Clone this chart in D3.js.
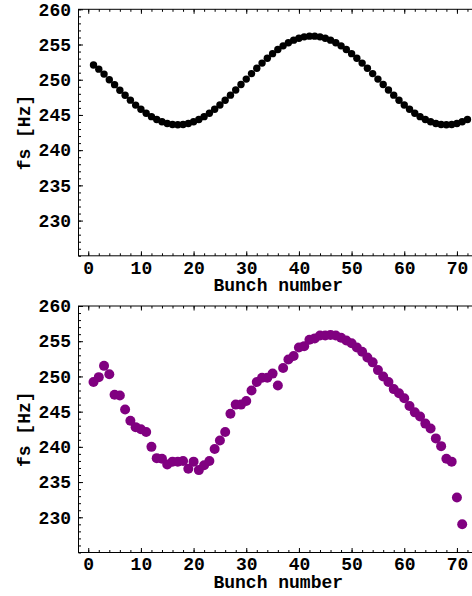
<!DOCTYPE html>
<html>
<head>
<meta charset="utf-8">
<script src="https://cdn.jsdelivr.net/npm/d3@7"></script>
<style>
    body { margin: 0; background: #fff; }
    svg { display: block; }
    text { font-family: "Liberation Mono", "Courier New", monospace; font-weight: bold; fill: #000; }
    .domain { display: none; }
    .tick line { stroke: #000; stroke-width: 1; }
</style>
</head>
<body>
<div id="chart"></div>
<script>
// bunch numbers and synchrotron frequency
const bunchTop = d3.range(1, 73);
const fsTop = [
    252.1, 251.5, 250.8, 250.0, 249.3, 248.5, 247.8, 247.1, 246.4, 245.8,
    245.24, 244.76, 244.35, 244.03, 243.79, 243.65, 243.60, 243.65, 243.79, 244.03,
    244.35, 244.76, 245.24, 245.80, 246.42, 247.09, 247.81, 248.55, 249.32, 250.09,
    250.87, 251.62, 252.36, 253.05, 253.70, 254.29, 254.81, 255.26, 255.62, 255.90,
    256.09, 256.19, 256.19, 256.09, 255.90, 255.62, 255.26, 254.81, 254.29, 253.70,
    253.05, 252.36, 251.62, 250.87, 250.09, 249.32, 248.55, 247.81, 247.09, 246.42,
    245.80, 245.24, 244.76, 244.35, 244.03, 243.79, 243.65, 243.60, 243.65, 243.79,
    244.03, 244.35
];
const bunchBottom = d3.range(1, 72);
const fsBottom = [
    249.2, 249.9, 251.5, 250.3, 247.4, 247.3, 245.3, 243.7, 242.8, 242.5,
    242.1, 240.0, 238.4, 238.3, 237.5, 237.9, 237.9, 238.0, 236.9, 237.9,
    236.7, 237.4, 238.0, 239.7, 240.9, 242.1, 244.7, 246.0, 246.0, 246.5,
    248.0, 249.2, 249.8, 249.8, 250.4, 248.7, 251.2, 252.4, 252.9, 254.1,
    254.3, 255.2, 255.4, 255.8, 255.8, 255.9, 255.8, 255.5, 255.1, 254.7,
    254.1, 253.5, 252.7, 252.0, 250.9, 250.0, 249.2, 248.2, 247.6, 246.9,
    245.8, 244.9, 244.3, 243.3, 242.6, 241.2, 240.1, 238.3, 237.9, 232.8,
    229.0
];
const xMajor = [0, 10, 20, 30, 40, 50, 60, 70];
const xMinor = d3.range(0, 75, 2);
const yMajor = [230, 235, 240, 245, 250, 255, 260];
const yMinor = d3.range(225, 261, 1);

const W = 472, H = 596;
const LEFT = 78.5, RIGHT = 478, PLOT_H = 246.5;
const FONT = 18;

const svg = d3.select("#chart").append("svg")
    .attr("width", W)
    .attr("height", H);

const x = d3.scaleLinear().domain([-1.85, 74]).range([LEFT, RIGHT]);

function drawPanel(top, bunch, fs, color, r) {
    const y = d3.scaleLinear().domain([225, 260]).range([top + PLOT_H, top]);
    const g = svg.append("g");

    // minor + major ticks, pointing inward
    g.append("g").attr("transform", `translate(0,${top + PLOT_H})`)
        .call(d3.axisBottom(x).tickValues(xMinor).tickSize(-2.5).tickFormat(""));
    g.append("g").attr("transform", `translate(0,${top + PLOT_H})`)
        .call(d3.axisBottom(x).tickValues(xMajor).tickSize(-4.5).tickPadding(5))
        .selectAll("text").style("font-size", FONT + "px");
    g.append("g").attr("transform", `translate(0,${top})`)
        .call(d3.axisTop(x).tickValues(xMinor).tickSize(-2.5).tickFormat(""));
    g.append("g").attr("transform", `translate(0,${top})`)
        .call(d3.axisTop(x).tickValues(xMajor).tickSize(-4.5).tickFormat(""));

    g.append("g").attr("transform", `translate(${LEFT},0)`)
        .call(d3.axisLeft(y).tickValues(yMinor).tickSize(-2.5).tickFormat(""));
    g.append("g").attr("transform", `translate(${LEFT},0)`)
        .call(d3.axisLeft(y).tickValues(yMajor).tickSize(-4.5).tickPadding(7.5))
        .selectAll("text").style("font-size", FONT + "px");

    // frame
    g.append("rect")
        .attr("x", LEFT)
        .attr("y", top)
        .attr("width", RIGHT - LEFT)
        .attr("height", PLOT_H)
        .attr("fill", "none")
        .attr("stroke", "#000")
        .attr("stroke-width", 1);

    g.append("g").selectAll("circle")
        .data(bunch)
        .join("circle")
        .attr("cx", d => x(d))
        .attr("cy", (d, i) => y(fs[i]))
        .attr("r", r)
        .attr("fill", color);

    g.append("text")
        .attr("x", (LEFT + RIGHT) / 2)
        .attr("y", top + PLOT_H + 35)
        .attr("text-anchor", "middle")
        .style("font-size", FONT + "px")
        .text("Bunch number");

    g.append("text")
        .attr("transform", `translate(30,${top + PLOT_H / 2}) rotate(-90)`)
        .attr("text-anchor", "middle")
        .style("font-size", FONT + "px")
        .text("fs [Hz]");
}

drawPanel(9.3, bunchTop, fsTop, "#000", 3.7);
drawPanel(306, bunchBottom, fsBottom, "#800080", 5);
</script>
</body>
</html>
